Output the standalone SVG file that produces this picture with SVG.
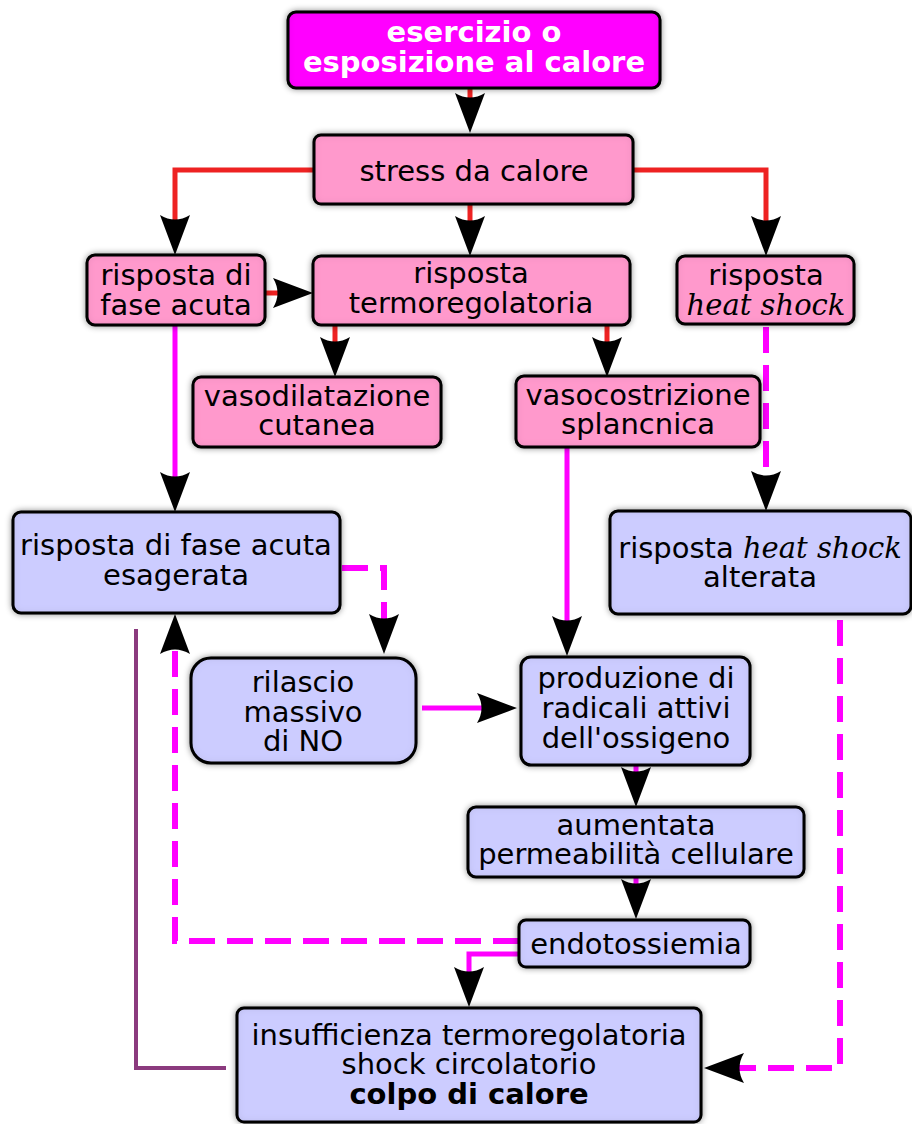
<svg xmlns="http://www.w3.org/2000/svg" xmlns:xlink="http://www.w3.org/1999/xlink" width="912" height="1124" viewBox="0 0 912 1124">
<style>
text{font-family:"DejaVu Sans","Liberation Sans",sans-serif;font-size:29px;text-anchor:middle;fill:#000}
.w{fill:#fff;font-weight:bold}
.b{font-weight:bold}
.it{font-family:"DejaVu Serif","Liberation Serif",serif;font-style:italic}
.box{stroke:#000;stroke-width:3}
.mag{fill:#ff00ff}
.pink{fill:#ff99cc}
.lav{fill:#ccccff}
.red{stroke:#ee2222;stroke-width:5;fill:none}
.m{stroke:#ff00ff;stroke-width:5;fill:none}
.md{stroke:#ff00ff;stroke-width:6;fill:none;stroke-dasharray:26 12}
.pur{stroke:#8b3a7e;stroke-width:4;fill:none}
</style>
<defs>
<filter id="sh" x="-10%" y="-15%" width="120%" height="130%">
<feGaussianBlur in="SourceAlpha" stdDeviation="3" result="b"/>
<feFlood flood-color="#000" flood-opacity="0.45" result="f1"/>
<feComposite in="f1" in2="b" operator="in" result="shadow"/>
<feFlood flood-color="#000" flood-opacity="0.3" result="f2"/>
<feComposite in="f2" in2="SourceAlpha" operator="out" result="outside"/>
<feGaussianBlur in="outside" stdDeviation="4" result="ob"/>
<feComposite in="ob" in2="SourceAlpha" operator="in" result="inner"/>
<feMerge><feMergeNode in="shadow"/><feMergeNode in="SourceGraphic"/><feMergeNode in="inner"/></feMerge>
</filter>
<path id="ah" d="M0,0 L-15,-40 Q0,-31 15,-40 Z" fill="#000"/>
</defs>

<g id="connectors">
<path class="red" d="M470,88 V105"/>
<use xlink:href="#ah" transform="translate(470,133)"/>
<path class="red" d="M314,170 H175 V225"/>
<use xlink:href="#ah" transform="translate(175,255)"/>
<path class="red" d="M633,170 H766 V225"/>
<use xlink:href="#ah" transform="translate(766,256)"/>
<path class="red" d="M470,204 V225"/>
<use xlink:href="#ah" transform="translate(470,256)"/>
<path class="red" d="M265,293 H285"/>
<use xlink:href="#ah" transform="translate(313,293) rotate(-90)"/>
<path class="red" d="M335,325 V345"/>
<use xlink:href="#ah" transform="translate(335,377)"/>
<path class="red" d="M607,325 V345"/>
<use xlink:href="#ah" transform="translate(607,377)"/>
<path class="m" d="M175,325 V480"/>
<use xlink:href="#ah" transform="translate(175,512)"/>
<path class="md" d="M766,327 V478"/>
<use xlink:href="#ah" transform="translate(766,511)"/>
<path class="m" d="M567,448 V625"/>
<use xlink:href="#ah" transform="translate(567,656)"/>
<path class="md" d="M342,568 H384 V622"/>
<use xlink:href="#ah" transform="translate(384,654)"/>
<path class="m" d="M422,708 H490"/>
<use xlink:href="#ah" transform="translate(517,708) rotate(-90)"/>
<path class="m" d="M636,765 V780"/>
<use xlink:href="#ah" transform="translate(636,807)"/>
<path class="m" d="M636,877 V892"/>
<use xlink:href="#ah" transform="translate(636,919)"/>
<path class="md" d="M519,941 H175 V648"/>
<use xlink:href="#ah" transform="translate(175,614) rotate(180)"/>
<path class="m" d="M519,954 H469 V975"/>
<use xlink:href="#ah" transform="translate(469,1007)"/>
<path class="md" d="M840,620 V1068 H735"/>
<use xlink:href="#ah" transform="translate(704,1068) rotate(90)"/>
<path class="pur" d="M136,629 V1068 H226"/>
</g>

<g id="n-esercizio">
<rect class="box mag" x="288" y="12" width="372" height="76" rx="8" filter="url(#sh)"/>
<text class="w" x="474" y="42">esercizio o</text>
<text class="w" x="474" y="72">esposizione al calore</text>
</g>
<g id="n-stress">
<rect class="box pink" x="314" y="135" width="319" height="69" rx="7" filter="url(#sh)"/>
<text x="474" y="181">stress da calore</text>
</g>
<g id="n-fase-acuta">
<rect class="box pink" x="87" y="255" width="178" height="70" rx="8" filter="url(#sh)"/>
<text x="176" y="285">risposta di</text>
<text x="176" y="315">fase acuta</text>
</g>
<g id="n-termo">
<rect class="box pink" x="313" y="256" width="317" height="69" rx="8" filter="url(#sh)"/>
<text x="471" y="283">risposta</text>
<text x="471" y="313">termoregolatoria</text>
</g>
<g id="n-heatshock">
<rect class="box pink" x="677" y="256" width="177" height="68" rx="8" filter="url(#sh)"/>
<text x="766" y="285">risposta</text>
<text class="it" x="766" y="315">heat shock</text>
</g>
<g id="n-vasodil">
<rect class="box pink" x="193" y="377" width="248" height="70" rx="8" filter="url(#sh)"/>
<text x="317" y="406">vasodilatazione</text>
<text x="317" y="435">cutanea</text>
</g>
<g id="n-vasocost">
<rect class="box pink" x="516" y="376" width="244" height="71" rx="8" filter="url(#sh)"/>
<text x="638" y="405">vasocostrizione</text>
<text x="638" y="434">splancnica</text>
</g>
<g id="n-esagerata">
<rect class="box lav" x="13" y="512" width="327" height="101" rx="8" filter="url(#sh)"/>
<text x="176" y="555">risposta di fase acuta</text>
<text x="176" y="585">esagerata</text>
</g>
<g id="n-alterata">
<rect class="box lav" x="610" y="511" width="301" height="103" rx="8" filter="url(#sh)"/>
<text x="760" y="558">risposta <tspan class="it">heat shock</tspan></text>
<text x="760" y="587">alterata</text>
</g>
<g id="n-rilascio">
<rect class="box lav" x="191" y="658" width="225" height="105" rx="20" filter="url(#sh)"/>
<text x="303" y="692">rilascio</text>
<text x="303" y="722">massivo</text>
<text x="303" y="751">di NO</text>
</g>
<g id="n-produzione">
<rect class="box lav" x="521" y="657" width="229" height="108" rx="10" filter="url(#sh)"/>
<text x="636" y="688">produzione di</text>
<text x="636" y="718">radicali attivi</text>
<text x="636" y="748">dell'ossigeno</text>
</g>
<g id="n-aumentata">
<rect class="box lav" x="468" y="807" width="336" height="70" rx="8" filter="url(#sh)"/>
<text x="636" y="835">aumentata</text>
<text x="636" y="864">permeabilità cellulare</text>
</g>
<g id="n-endotossiemia">
<rect class="box lav" x="519" y="920" width="231" height="47" rx="7" filter="url(#sh)"/>
<text x="636" y="954">endotossiemia</text>
</g>
<g id="n-insufficienza">
<rect class="box lav" x="237" y="1008" width="464" height="114" rx="7" filter="url(#sh)"/>
<text x="469" y="1045">insufficienza termoregolatoria</text>
<text x="469" y="1074">shock circolatorio</text>
<text class="b" x="469" y="1104">colpo di calore</text>
</g>
</svg>
